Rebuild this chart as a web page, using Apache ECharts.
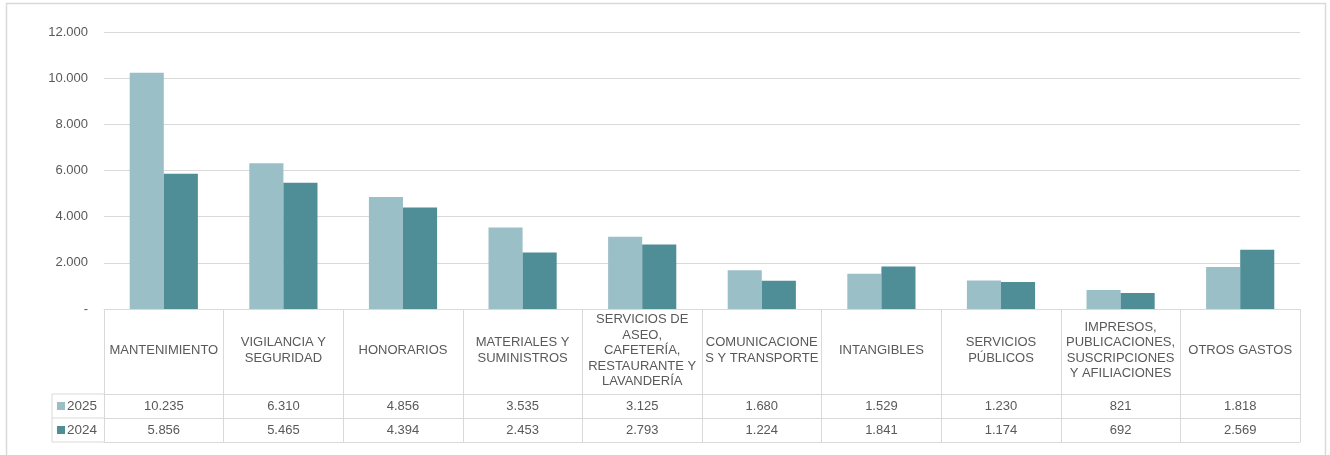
<!DOCTYPE html>
<html>
<head>
<meta charset="utf-8">
<script src="https://cdn.jsdelivr.net/npm/echarts@6/dist/echarts.min.js"></script>
<style>
html,body{margin:0;padding:0;background:#fff;}
#chart{width:1330px;height:455px;}
</style>
</head>
<body>
<div id="chart"></div>
<script>
const categories = ['MANTENIMIENTO','VIGILANCIA Y SEGURIDAD','HONORARIOS','MATERIALES Y SUMINISTROS','SERVICIOS DE ASEO, CAFETERÍA, RESTAURANTE Y LAVANDERÍA','COMUNICACIONES Y TRANSPORTE','INTANGIBLES','SERVICIOS PÚBLICOS','IMPRESOS, PUBLICACIONES, SUSCRIPCIONES Y AFILIACIONES','OTROS GASTOS'];
const headerLabels = ['MANTENIMIENTO','VIGILANCIA Y\nSEGURIDAD','HONORARIOS','MATERIALES Y\nSUMINISTROS','SERVICIOS DE\nASEO,\nCAFETERÍA,\nRESTAURANTE Y\nLAVANDERÍA','COMUNICACIONE\nS Y TRANSPORTE','INTANGIBLES','SERVICIOS\nPÚBLICOS','IMPRESOS,\nPUBLICACIONES,\nSUSCRIPCIONES\nY AFILIACIONES','OTROS GASTOS'];
const values2025 = [10235, 6310, 4856, 3535, 3125, 1680, 1529, 1230, 821, 1818];
const values2024 = [5856, 5465, 4394, 2453, 2793, 1224, 1841, 1174, 692, 2569];
const seriesNames = ['2025', '2024'];
const yTicks = {min: 0, max: 12000, interval: 2000};

const C_LIGHT = '#9BBFC6';
const C_DARK = '#4F8E97';
const TXT = '#595959';
const LINE = '#D9D9D9';
const FONT = '"Liberation Sans", Arial, sans-serif';

function fmt(n) {
  if (n === 0) return '-';
  return String(n).replace(/\B(?=(\d{3})+(?!\d))/g, '.');
}

const G = {left: 104, right: 30, top: 32, bottom: 146};
const H_HEAD = 85, H_ROW = 24;

const chart = echarts.init(document.getElementById('chart'), null, {renderer: 'canvas'});

const baseX = {
  type: 'category',
  data: categories,
  position: 'bottom',
  gridIndex: 0,
  boundaryGap: true,
  axisLine: {show: true, lineStyle: {color: LINE, width: 1}},
  axisTick: {show: true, alignWithLabel: false, lineStyle: {color: LINE, width: 1}},
  splitLine: {show: false}
};

const yBottom = 455 - G.bottom;
const yRow1 = yBottom + H_HEAD;
const yRow2 = yRow1 + H_ROW;
const yRow3 = yRow2 + H_ROW;
const legendLeft = 52;

const legendBase = {left: 57, orient: 'vertical', icon: 'rect', itemWidth: 8, itemHeight: 8, itemGap: 3,
  textStyle: {color: TXT, fontSize: 13.5, fontFamily: FONT, padding: [0, 0, 0, -3]}, padding: 0};

chart.setOption({
  animation: false,
  textStyle: {fontFamily: FONT},
  grid: {left: G.left, right: G.right, top: G.top, bottom: G.bottom, containLabel: false, outerBoundsMode: 'none'},
  legend: [
    Object.assign({}, legendBase, {data: [seriesNames[0]], top: yRow1 + 5}),
    Object.assign({}, legendBase, {data: [seriesNames[1]], top: yRow2 + 5})
  ],
  xAxis: [
    Object.assign({}, baseX, {
      offset: 0,
      axisTick: {show: true, length: H_HEAD, lineStyle: {color: LINE}},
      axisLabel: {show: true, interval: 0, margin: H_HEAD / 2 - 1, verticalAlign: 'middle', align: 'center',
        color: TXT, fontSize: 13, lineHeight: 15.5, fontFamily: FONT,
        formatter: (v, i) => headerLabels[i]}
    }),
    Object.assign({}, baseX, {
      offset: H_HEAD,
      axisTick: {show: true, length: H_ROW, lineStyle: {color: LINE}},
      axisLabel: {show: true, interval: 0, margin: H_ROW / 2, verticalAlign: 'middle', color: TXT, fontSize: 13, fontFamily: FONT,
        formatter: (v, i) => fmt(values2025[i])}
    }),
    Object.assign({}, baseX, {
      offset: H_HEAD + H_ROW,
      axisTick: {show: true, length: H_ROW, lineStyle: {color: LINE}},
      axisLabel: {show: true, interval: 0, margin: H_ROW / 2, verticalAlign: 'middle', color: TXT, fontSize: 13, fontFamily: FONT,
        formatter: (v, i) => fmt(values2024[i])}
    }),
    Object.assign({}, baseX, {
      offset: H_HEAD + 2 * H_ROW,
      axisTick: {show: false},
      axisLabel: {show: false}
    })
  ],
  yAxis: {
    type: 'value',
    min: yTicks.min, max: yTicks.max, interval: yTicks.interval,
    axisLine: {show: false},
    axisTick: {show: false},
    axisLabel: {color: TXT, fontSize: 13, fontFamily: FONT, margin: 16, formatter: v => fmt(v)},
    splitLine: {show: true, lineStyle: {color: LINE, width: 1}}
  },
  series: [
    {name: seriesNames[0], type: 'bar', xAxisIndex: 0, data: values2025, itemStyle: {color: C_LIGHT}, barGap: '0%', barCategoryGap: '43%'},
    {name: seriesNames[1], type: 'bar', xAxisIndex: 0, data: values2024, itemStyle: {color: C_DARK}, barGap: '0%', barCategoryGap: '43%'}
  ],
  graphic: [
    {type: 'rect', silent: true, shape: {x: 6.5, y: 3.5, width: 1319, height: 470}, style: {fill: 'none', stroke: LINE, lineWidth: 1.5}},
    {type: 'line', silent: true, shape: {x1: legendLeft, y1: yRow1, x2: G.left, y2: yRow1}, style: {stroke: LINE, lineWidth: 1}},
    {type: 'line', silent: true, shape: {x1: legendLeft, y1: yRow2, x2: G.left, y2: yRow2}, style: {stroke: LINE, lineWidth: 1}},
    {type: 'line', silent: true, shape: {x1: legendLeft, y1: yRow3, x2: G.left, y2: yRow3}, style: {stroke: LINE, lineWidth: 1}},
    {type: 'line', silent: true, shape: {x1: legendLeft, y1: yRow1, x2: legendLeft, y2: yRow3}, style: {stroke: LINE, lineWidth: 1}}
  ]
});
</script>
</body>
</html>
